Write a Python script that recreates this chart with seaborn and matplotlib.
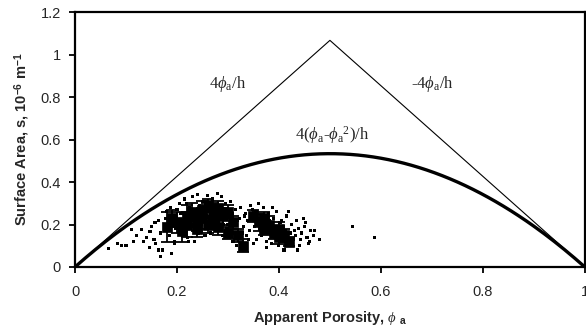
import numpy as np
import pandas as pd
import matplotlib
matplotlib.use("Agg")
import matplotlib.pyplot as plt
import seaborn as sns

# Pore thickness parameter for the bounding curves
h = 1.875

# Individual measurements (apparent porosity, surface area)
dot_phi = [0.065, 0.084, 0.092, 0.100, 0.114, 0.110, 0.130, 0.140, 0.147, 0.150,
           0.157, 0.163, 0.167, 0.163, 0.172, 0.190, 0.120, 0.135, 0.155, 0.175,
           0.178, 0.185, 0.195, 0.200, 0.205, 0.210, 0.215, 0.220, 0.225, 0.230,
           0.235, 0.240, 0.245, 0.250, 0.255, 0.260, 0.265, 0.270, 0.275, 0.280,
           0.285, 0.290, 0.295, 0.300, 0.305, 0.310, 0.315, 0.320, 0.325, 0.330,
           0.335, 0.340, 0.345, 0.350, 0.355, 0.360, 0.365, 0.370, 0.375, 0.380,
           0.385, 0.390, 0.395, 0.400, 0.405, 0.410, 0.415, 0.420, 0.425, 0.430,
           0.435, 0.440, 0.445, 0.450, 0.455, 0.460, 0.470, 0.480, 0.545, 0.588,
           0.180, 0.188, 0.198, 0.208, 0.218, 0.228, 0.238, 0.248, 0.258, 0.268,
           0.278, 0.288, 0.298, 0.308, 0.318, 0.328, 0.338, 0.348, 0.358, 0.368,
           0.378, 0.388, 0.398, 0.408, 0.418, 0.428, 0.438, 0.448, 0.458, 0.468,
           0.202, 0.212, 0.232, 0.252, 0.262, 0.282, 0.302, 0.322, 0.342, 0.362,
           0.372, 0.392, 0.412, 0.432, 0.452, 0.242, 0.272, 0.292, 0.312, 0.332,
           0.352, 0.382, 0.402, 0.422, 0.442, 0.462, 0.222, 0.186, 0.196, 0.316,
           0.146, 0.158, 0.168, 0.176, 0.336, 0.356, 0.376, 0.396, 0.416, 0.436]
dot_s = [0.085, 0.110, 0.100, 0.100, 0.120, 0.175, 0.175, 0.140, 0.165, 0.190,
         0.210, 0.220, 0.160, 0.080, 0.080, 0.065, 0.150, 0.120, 0.130, 0.180,
         0.230, 0.150, 0.120, 0.270, 0.300, 0.160, 0.320, 0.140, 0.280, 0.330,
         0.120, 0.340, 0.290, 0.310, 0.150, 0.335, 0.160, 0.320, 0.180, 0.345,
         0.290, 0.150, 0.300, 0.200, 0.310, 0.120, 0.270, 0.140, 0.280, 0.190,
         0.250, 0.130, 0.290, 0.110, 0.260, 0.300, 0.150, 0.280, 0.120, 0.250,
         0.110, 0.230, 0.260, 0.100, 0.220, 0.080, 0.240, 0.120, 0.200, 0.170,
         0.220, 0.100, 0.160, 0.190, 0.140, 0.120, 0.170, 0.130, 0.190, 0.140,
         0.260, 0.280, 0.180, 0.250, 0.300, 0.200, 0.260, 0.210, 0.240, 0.300,
         0.230, 0.330, 0.180, 0.250, 0.220, 0.160, 0.220, 0.270, 0.200, 0.240,
         0.170, 0.280, 0.140, 0.190, 0.260, 0.130, 0.180, 0.230, 0.110, 0.150,
         0.180, 0.220, 0.200, 0.240, 0.190, 0.210, 0.140, 0.230, 0.170, 0.180,
         0.210, 0.190, 0.170, 0.150, 0.210, 0.160, 0.260, 0.200, 0.160, 0.240,
         0.190, 0.220, 0.210, 0.160, 0.130, 0.170, 0.120, 0.240, 0.110, 0.100,
         0.090, 0.110, 0.050, 0.200, 0.150, 0.130, 0.090, 0.140, 0.100, 0.080]

# Grouped averages with standard deviation
box_phi = [0.18, 0.19, 0.20, 0.21, 0.22, 0.22, 0.23, 0.24, 0.24, 0.25,
           0.25, 0.26, 0.26, 0.27, 0.27, 0.28, 0.28, 0.29, 0.30, 0.30,
           0.31, 0.32, 0.33, 0.35, 0.36, 0.37, 0.37, 0.38, 0.39, 0.40,
           0.40, 0.41, 0.42]
box_s = [0.19, 0.23, 0.21, 0.17, 0.24, 0.20, 0.26, 0.22, 0.18, 0.27,
         0.23, 0.20, 0.29, 0.25, 0.22, 0.28, 0.19, 0.24, 0.26, 0.16,
         0.21, 0.15, 0.10, 0.24, 0.21, 0.23, 0.18, 0.20, 0.16, 0.18,
         0.14, 0.15, 0.12]
box_err = [0.07, 0.04, 0.05, 0.05, 0.05, 0.06, 0.04, 0.05, 0.04, 0.04,
           0.05, 0.04, 0.03, 0.05, 0.04, 0.03, 0.04, 0.04, 0.03, 0.03,
           0.03, 0.03, 0.03, 0.03, 0.04, 0.03, 0.03, 0.04, 0.03, 0.03,
           0.03, 0.03, 0.02]

x_ticks = [0, 0.2, 0.4, 0.6, 0.8, 1.0]
x_tick_labels = ["0", "0.2", "0.4", "0.6", "0.8", "1"]
y_ticks = [0, 0.2, 0.4, 0.6, 0.8, 1.0, 1.2]
y_tick_labels = ["0", "0.2", "0.4", "0.6", "0.8", "1", "1.2"]

sns.set_style("ticks")
plt.rcParams["font.family"] = ["Liberation Sans", "DejaVu Sans"]
plt.rcParams["mathtext.fontset"] = "custom"
plt.rcParams["mathtext.rm"] = "Liberation Serif"
plt.rcParams["mathtext.it"] = "Liberation Serif:italic"
plt.rcParams["mathtext.bf"] = "Liberation Sans:bold"

fig = plt.figure(figsize=(5.86, 3.34), dpi=100)
ax = fig.add_axes([0.128, 0.2006, 0.870, 0.7634])

# Bounding curves
phi = np.linspace(0, 1, 201)
tri = pd.DataFrame({"phi": phi, "s": np.where(phi <= 0.5, 4 * phi / h, 4 * (1 - phi) / h)})
quad = pd.DataFrame({"phi": phi, "s": 4 * (phi - phi ** 2) / h})
sns.lineplot(data=tri, x="phi", y="s", color="black", linewidth=0.8, ax=ax)
sns.lineplot(data=quad, x="phi", y="s", color="black", linewidth=2.4, ax=ax)

# Scatter of measurements
sns.scatterplot(x=dot_phi, y=dot_s, marker="s", s=5, color="black",
                edgecolor="none", ax=ax)
ax.errorbar(box_phi, box_s, yerr=box_err, fmt="none", ecolor="black",
            elinewidth=1.3, capsize=4, capthick=1.3)
sns.scatterplot(x=box_phi, y=box_s, marker="s", s=42, color="black",
                edgecolor="black", ax=ax)

ax.set_xlim(0, 1)
ax.set_ylim(0, 1.2)
ax.set_xticks(x_ticks)
ax.set_xticklabels(x_tick_labels)
ax.set_yticks(y_ticks)
ax.set_yticklabels(y_tick_labels)
ax.tick_params(axis="both", direction="out", length=4, width=1.3,
               labelsize=10.5, color="black", pad=6)
ax.tick_params(axis="x", pad=9)
for sp in ax.spines.values():
    sp.set_linewidth(1.6)
    sp.set_color("black")

ax.set_xlabel(r"Apparent Porosity, $\it{\phi}$ $_{\mathbf{a}}$", fontsize=10.5,
              fontweight="bold", labelpad=7)
ax.set_ylabel(r"Surface Area, s, 10$^{\mathbf{-6}}$ m$^{\mathbf{-1}}$", fontsize=10.5,
              fontweight="bold", labelpad=6)

serif = {"family": "Liberation Serif", "size": 12}
ax.text(0.30, 0.86, r"4$\phi_{\rm a}$/h", ha="center", va="center", fontdict=serif)
ax.text(0.70, 0.86, r"-4$\phi_{\rm a}$/h", ha="center", va="center", fontdict=serif)
ax.text(0.505, 0.62, r"4($\phi_{\rm a}$-$\phi_{\rm a}$$^2$)/h", ha="center",
        va="center", fontdict=serif)

fig.savefig("out.png", dpi=100)
